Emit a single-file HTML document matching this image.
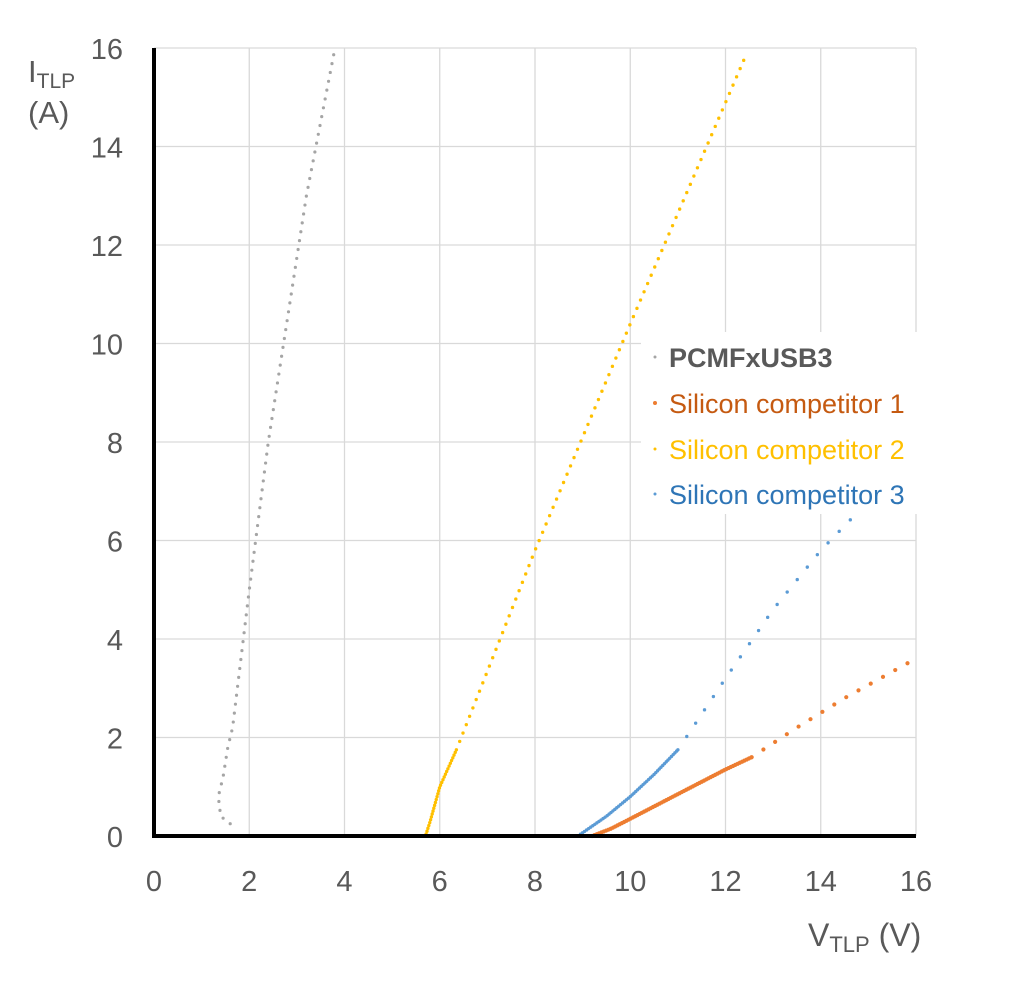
<!DOCTYPE html>
<html><head><meta charset="utf-8"><style>
body{margin:0;background:#fff;}
svg{display:block;font-family:"Liberation Sans",Arial,sans-serif;}
</style></head><body>
<svg id="chart" width="1024" height="987" viewBox="0 0 1024 987">
<g id="grid"></g>
<g id="series"></g>
<g id="axes"></g>
<g id="legend">
<rect x="641" y="332" width="276" height="182" fill="#fff"/>
<circle cx="655" cy="357" r="1.5" fill="#a5a5a5"/>
<text x="669" y="367" font-size="27" font-weight="bold" fill="#595959">PCMFxUSB3</text>
<circle cx="655" cy="403" r="2" fill="#ed7d31"/>
<text x="669" y="413" font-size="27" fill="#c55a11">Silicon competitor 1</text>
<circle cx="655" cy="449" r="1.5" fill="#ffc000"/>
<text x="669" y="459" font-size="27" fill="#ffc000">Silicon competitor 2</text>
<circle cx="655" cy="494" r="1.5" fill="#5b9bd5"/>
<text x="669" y="504" font-size="27" fill="#2e75b6">Silicon competitor 3</text>
</g>
<text x="28" y="82" font-size="31" fill="#595959">I<tspan font-size="21" dy="6">TLP</tspan></text>
<text x="28" y="123" font-size="31" fill="#595959">(A)</text>
<text x="808" y="946" font-size="32" fill="#595959">V<tspan font-size="22" dy="6">TLP</tspan><tspan dy="-6"> (V)</tspan></text>
</svg>
<script>
const xTicks=[0,2,4,6,8,10,12,14,16];
const yTicks=[0,2,4,6,8,10,12,14,16];
// PCMFxUSB3 (gray)
const pcmfX=[0.2,13.2,null,1.6,1.4,1.35,1.45,1.55,1.65,2.0,2.4,2.8,3.2,3.8];
const pcmfY=[0,0,null,0.25,0.4,0.8,1.2,1.8,2.2,5,8,10.5,13,16];
// Silicon competitor 1 (orange)
const c1X=[9.2,9.6,10,11,12,12.55,null,12.55,13.5,14.5,15.9];
const c1Y=[0,0.15,0.35,0.85,1.35,1.6,null,1.6,2.2,2.8,3.55];
// Silicon competitor 2 (yellow)
const c2X=[0.2,5.7,5.8,6.0,6.35,null,6.35,8,10,12.45];
const c2Y=[0,0,0.3,1.0,1.75,null,1.75,5.8,10.4,15.9];
// Silicon competitor 3 (blue)
const c3X=[0.2,8.9,9.5,10,10.5,11,null,11,12,13,14,14.75];
const c3Y=[0,0,0.4,0.8,1.25,1.75,null,1.75,3.2,4.6,5.8,6.55];

const X0=154,X1=916,Y0=836,Y1=48;
const xs=v=>X0+(v/16)*(X1-X0);
const ys=v=>Y0-(v/16)*(Y0-Y1);
const NS="http://www.w3.org/2000/svg";
function mk(tag,attrs,parent){const e=document.createElementNS(NS,tag);for(const k in attrs)e.setAttribute(k,attrs[k]);parent.appendChild(e);return e;}
const grid=document.getElementById('grid'),axes=document.getElementById('axes'),ser=document.getElementById('series');
xTicks.forEach(t=>{
 if(t>0){const l=mk('line',{x1:xs(t),x2:xs(t),y1:Y1,y2:Y0,stroke:'#d9d9d9','stroke-width':1.3},grid);
 
 }
 const tx=mk('text',{x:xs(t),y:891,'font-size':29,fill:'#595959','text-anchor':'middle'},axes);tx.textContent=t;
 
 
});
yTicks.forEach(t=>{
 if(t>0){const l=mk('line',{x1:X0,x2:X1,y1:ys(t),y2:ys(t),stroke:'#d9d9d9','stroke-width':1.3},grid);
 
 }
 const tx=mk('text',{x:123,y:ys(t)+11,'font-size':29,fill:'#595959','text-anchor':'end'},axes);tx.textContent=t;
 
 
});
const ya=mk('line',{x1:X0,x2:X0,y1:Y1,y2:Y0+2,stroke:'#000','stroke-width':4},axes);


const xa=mk('line',{x1:X0-2,x2:X1,y1:Y0,y2:Y0,stroke:'#000','stroke-width':4},axes);



function draw(X,Y,color,name,dense,sparse,w){
 let seg=0,pts=[];
 const flush=()=>{ if(pts.length<2){pts=[];return;}
  const gap=seg===0?dense:sparse;
  const p=mk('path',{d:'M'+pts.join('L'),fill:'none',stroke:color,'stroke-width':w,'stroke-linecap':'round','stroke-dasharray':'0 '+gap},ser);
  
  
  pts=[];seg++;};
 for(let i=0;i<X.length;i++){ if(X[i]===null){flush();continue;} pts.push(xs(X[i]).toFixed(1)+','+ys(Y[i]).toFixed(1)); }
 flush();
}
draw(pcmfX,pcmfY,'#a5a5a5','pcmfxusb3',4,9,3.2);
draw(c2X,c2Y,'#ffc000','silicon-competitor-2',3,9,3.4);
draw(c3X,c3Y,'#5b9bd5','silicon-competitor-3',2.5,16,3.4);
draw(c1X,c1Y,'#ed7d31','silicon-competitor-1',2.5,14,4.2);
</script>
</body></html>
